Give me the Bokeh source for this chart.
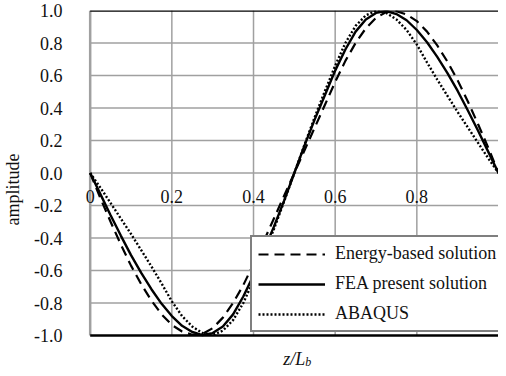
from bokeh.plotting import figure
from bokeh.models import (Range1d, FixedTicker, Label, LabelSet, Legend,
                          LegendItem, ColumnDataSource)
from bokeh.embed import file_html
from bokeh.resources import INLINE
from bokeh.core.properties import value

# ---------------- data ----------------
z = [0.000, 0.025, 0.050, 0.075, 0.100, 0.125, 0.150, 0.175, 0.200, 0.225,
     0.250, 0.275, 0.300, 0.325, 0.350, 0.375, 0.400, 0.425, 0.450, 0.475,
     0.500, 0.525, 0.550, 0.575, 0.600, 0.625, 0.650, 0.675, 0.700, 0.725,
     0.750, 0.775, 0.800, 0.825, 0.850, 0.875, 0.900, 0.925, 0.950, 0.975,
     1.000]

energy = [0.000, -0.155, -0.300, -0.440, -0.570, -0.685, -0.785, -0.870, -0.935, -0.975,
          -0.995, -0.990, -0.955, -0.890, -0.800, -0.690, -0.560, -0.420, -0.280, -0.140,
          0.000, 0.140, 0.280, 0.420, 0.560, 0.690, 0.800, 0.890, 0.955, 0.990,
          0.995, 0.975, 0.935, 0.870, 0.785, 0.685, 0.570, 0.440, 0.300, 0.155,
          0.000]

fea = [0.000, -0.130, -0.260, -0.385, -0.505, -0.615, -0.715, -0.805, -0.880, -0.940,
       -0.978, -0.997, -0.985, -0.945, -0.870, -0.760, -0.630, -0.480, -0.330, -0.170,
       0.000, 0.170, 0.330, 0.480, 0.630, 0.760, 0.870, 0.945, 0.985, 0.997,
       0.978, 0.940, 0.880, 0.805, 0.715, 0.615, 0.505, 0.385, 0.260, 0.130,
       0.000]

abaqus = [0.000, -0.090, -0.185, -0.280, -0.375, -0.475, -0.575, -0.680, -0.790, -0.880,
          -0.945, -0.985, -0.997, -0.970, -0.905, -0.800, -0.660, -0.505, -0.345, -0.175,
          0.000, 0.175, 0.345, 0.505, 0.660, 0.800, 0.905, 0.970, 0.997, 0.985,
          0.945, 0.880, 0.790, 0.680, 0.575, 0.475, 0.375, 0.280, 0.185, 0.090,
          0.000]

series_names = ["Energy-based solution", "FEA present solution", "ABAQUS"]

y_ticks = [-1.0, -0.8, -0.6, -0.4, -0.2, 0.0, 0.2, 0.4, 0.6, 0.8, 1.0]
y_tick_labels = ["-1.0", "-0.8", "-0.6", "-0.4", "-0.2", "0.0",
                 "0.2", "0.4", "0.6", "0.8", "1.0"]
y_grid = [-0.8, -0.6, -0.4, -0.2, 0.0, 0.2, 0.4, 0.6, 0.8]
y_border = [-1.0, 1.0]

x_ticks = [0.0, 0.2, 0.4, 0.6, 0.8]
x_tick_labels = ["0", "0.2", "0.4", "0.6", "0.8"]
x_tick_y = [0.0, 0.0, 0.0, 0.0, 0.0]
x_grid = [0.2, 0.4, 0.6, 0.8]
x_min, x_max = 0.0, 1.0
y_min, y_max = -1.0, 1.0

x_title = "z/L"
x_title_sub = "b"
y_title = "amplitude"

FONT = "Liberation Serif"
GRID = "#a0a0a0"
INK = "#111111"

# ---------------- figure ----------------
# the frame is a little larger than the data box so that the "0" label and
# the x title (which sit outside the 0..1 / -1..1 box) stay visible
p = figure(width=498, height=368,
           x_range=Range1d(-0.0433, 1.0), y_range=Range1d(-1.203, 1.0),
           x_axis_location=None,
           output_backend="svg", toolbar_location=None,
           min_border_left=64, min_border_right=0,
           min_border_top=10, min_border_bottom=0)
p.outline_line_color = None
p.background_fill_color = "white"
p.border_fill_color = "white"
p.grid.visible = False

# y axis (tick labels + title); the axis line is drawn at x = 0 below
p.yaxis.ticker = FixedTicker(ticks=y_ticks)
p.yaxis.major_label_overrides = {t: l for t, l in zip(y_ticks, y_tick_labels)}
p.yaxis.major_label_text_font = FONT
p.yaxis.major_label_text_font_size = "18px"
p.yaxis.major_label_text_color = INK
p.yaxis.major_label_standoff = 4
p.yaxis.major_tick_line_color = None
p.yaxis.minor_tick_line_color = None
p.yaxis.axis_line_color = None
p.yaxis.axis_label = y_title
p.yaxis.axis_label_text_font = FONT
p.yaxis.axis_label_text_font_size = "18px"
p.yaxis.axis_label_text_font_style = "normal"
p.yaxis.axis_label_text_color = INK
p.yaxis.axis_label_standoff = 8

# grid lines inside the data box
p.segment(x0=[x_min] * len(y_grid), x1=[x_max] * len(y_grid), y0=y_grid, y1=y_grid,
          line_color=GRID, line_width=1.5, level="underlay")
p.segment(x0=x_grid, x1=x_grid, y0=[y_min] * len(x_grid), y1=[y_max] * len(x_grid),
          line_color=GRID, line_width=1.5, level="underlay")
# vertical axis line at x = 0
p.segment(x0=[x_min], x1=[x_min], y0=[y_min], y1=[y_max],
          line_color=GRID, line_width=2.5, level="underlay")
# black top / bottom lines
p.segment(x0=[x_min] * 2, x1=[x_max] * 2, y0=y_border, y1=y_border,
          line_color="black", line_width=2.5)

# x tick labels along y = 0
xsrc = ColumnDataSource(dict(x=x_ticks, y=x_tick_y, t=x_tick_labels))
p.add_layout(LabelSet(x="x", y="y", text="t", source=xsrc, level="underlay",
                      text_font=value(FONT), text_font_size="18px",
                      text_color=INK,
                      text_align="center", text_baseline="top", y_offset=-17))

# curves
r1 = p.line(z, energy, line_color="black", line_width=2.2, line_dash="10 6")
r2 = p.line(z, fea, line_color="black", line_width=2.4)
r3 = p.line(z, abaqus, line_color="black", line_width=2.4, line_dash="2 2")

legend = Legend(items=[LegendItem(label=series_names[0], renderers=[r1]),
                       LegendItem(label=series_names[1], renderers=[r2]),
                       LegendItem(label=series_names[2], renderers=[r3])],
                location=(178, 36),
                label_text_font=FONT, label_text_font_size="18px",
                label_text_color=INK,
                glyph_width=67, glyph_height=20, label_height=20,
                label_width=168, label_standoff=10,
                spacing=9, padding=6, margin=0,
                border_line_color="black", border_line_width=2,
                background_fill_color="white", background_fill_alpha=1.0)
p.add_layout(legend)

# x-axis title (italic z/L with subscript b)
p.add_layout(Label(x=0.527, y=-1.1415, text=x_title,
                   text_font=FONT, text_font_size="18px", text_font_style="italic",
                   text_color=INK, text_align="right", text_baseline="middle"))
p.add_layout(Label(x=0.527, y=-1.16, text=x_title_sub,
                   text_font=FONT, text_font_size="12px", text_font_style="italic",
                   text_color=INK, text_align="left", text_baseline="middle"))

open("out.html", "w").write(file_html(p, INLINE))
